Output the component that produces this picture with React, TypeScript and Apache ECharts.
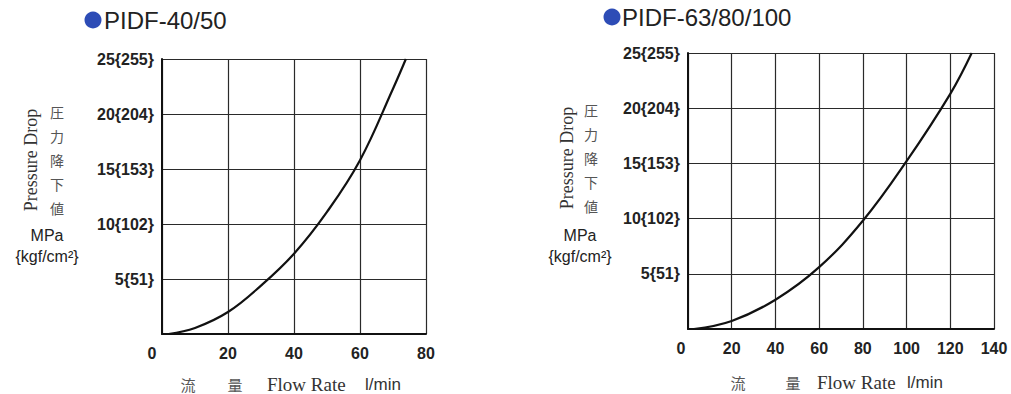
import React, { useEffect, useRef } from "react";
import * as echarts from "echarts";

const titleA = "PIDF-40/50";
const titleB = "PIDF-63/80/100";
const flowA = [2, 10, 20, 30, 40, 50, 60, 70, 73.9];
const dropA = [0, 0.55, 2.0, 4.4, 7.3, 11.1, 15.8, 22.3, 25];
const flowB = [2.7, 20, 40, 60, 80, 100, 120, 129.8];
const dropB = [0, 0.73, 2.65, 5.6, 9.8, 15.2, 21.3, 25];
const mpaTicks = [0, 5, 10, 15, 20, 25];
const kgfTicks = [0, 51, 102, 153, 204, 255];
const xMaxA = 80;
const xMaxB = 140;
const xStep = 20;
const yNameEn = "Pressure Drop";
const yNameJa = ["圧", "力", "降", "下", "値"];
const yUnit1 = "MPa";
const yUnit2 = "{kgf/cm²}";
const xNameJa1 = "流";
const xNameJa2 = "量";
const xNameEn = "Flow Rate";
const xUnit = "l/min";

const TICK_FONT = "'Liberation Sans', Arial, sans-serif";
const SANS = "'Liberation Sans', Arial, sans-serif";
const SERIF = "'Liberation Serif', 'Times New Roman', serif";
const CJK = "'Noto Sans CJK JP', sans-serif";
const TXT = "#222";
const LINE = "#2a2a2a";

function yLabel(v: number) {
  if (v === 0) return "";
  const i = mpaTicks.indexOf(v);
  return `${v}{${kgfTicks[i]}}`;
}

function makeXAxis(grid: number, max: number, zeroPad: number) {
  return {
    type: "value",
    gridIndex: grid,
    min: 0,
    max,
    interval: xStep,
    axisLine: { show: true, lineStyle: { color: "#111", width: 2 } },
    axisTick: { show: false },
    splitLine: { show: true, lineStyle: { color: LINE, width: 1.2 } },
    axisLabel: {
      margin: 11,
      color: TXT,
      fontFamily: TICK_FONT,
      fontWeight: "bold",
      fontSize: 16,
      formatter: (v: number) => (v === 0 ? "{z|0}" : String(v)),
      rich: {
        z: {
          padding: [0, zeroPad, 0, 0],
          color: TXT,
          fontFamily: TICK_FONT,
          fontWeight: "bold",
          fontSize: 16,
        },
      },
    },
  };
}

function makeYAxis(grid: number) {
  return {
    type: "value",
    gridIndex: grid,
    min: 0,
    max: 25,
    interval: 5,
    axisLine: { show: true, lineStyle: { color: "#111", width: 2 } },
    axisTick: { show: false },
    splitLine: { show: true, lineStyle: { color: LINE, width: 1.2 } },
    axisLabel: {
      margin: 8,
      color: TXT,
      fontFamily: TICK_FONT,
      fontWeight: "bold",
      fontSize: 16,
      formatter: yLabel,
    },
  };
}

function yNameGraphics(xEn: number, xJa: number, xUnitC: number, yMid: number) {
  return [
    {
      type: "text",
      x: xEn,
      y: yMid,
      rotation: Math.PI / 2,
      style: {
        text: yNameEn,
        fontFamily: SERIF,
        fontSize: 18,
        fill: "#333",
        align: "center",
        verticalAlign: "middle",
      },
    },
    {
      type: "text",
      x: xJa,
      y: yMid,
      style: {
        text: yNameJa.join("\n"),
        fontFamily: CJK,
        fontSize: 14,
        lineHeight: 24,
        fill: "#555",
        align: "center",
        verticalAlign: "middle",
      },
    },
    {
      type: "text",
      x: xUnitC,
      y: 235,
      style: {
        text: yUnit1,
        fontFamily: SANS,
        fontSize: 16,
        fill: TXT,
        align: "center",
        verticalAlign: "middle",
      },
    },
    {
      type: "text",
      x: xUnitC,
      y: 256,
      style: {
        text: yUnit2,
        fontFamily: SANS,
        fontSize: 16,
        fill: TXT,
        align: "center",
        verticalAlign: "middle",
      },
    },
  ];
}

function xNameGraphics(x1: number, x2: number, x3: number, x4: number, y: number) {
  return [
    {
      type: "text",
      x: x1,
      y,
      style: { text: xNameJa1, fontFamily: CJK, fontSize: 15, fill: "#555", align: "center", verticalAlign: "middle" },
    },
    {
      type: "text",
      x: x2,
      y,
      style: { text: xNameJa2, fontFamily: CJK, fontSize: 15, fill: "#555", align: "center", verticalAlign: "middle" },
    },
    {
      type: "text",
      x: x3,
      y,
      style: { text: xNameEn, fontFamily: SERIF, fontSize: 19, fill: "#333", align: "left", verticalAlign: "middle" },
    },
    {
      type: "text",
      x: x4,
      y,
      style: { text: xUnit, fontFamily: SANS, fontSize: 17, fill: "#333", align: "left", verticalAlign: "middle" },
    },
  ];
}

function titleGraphics(cx: number, tx: number, y: number, text: string) {
  return [
    { type: "circle", shape: { cx, cy: y, r: 8.5 }, style: { fill: "#2d4cb6" } },
    {
      type: "text",
      x: tx,
      y,
      style: { text, fontFamily: SANS, fontSize: 24, fill: "#222", align: "left", verticalAlign: "middle" },
    },
  ];
}

export default function App() {
  const ref = useRef<HTMLDivElement>(null);
  useEffect(() => {
    if (!ref.current) return;
    const chart = echarts.init(ref.current, null, { renderer: "svg" });
    const option = {
      animation: false,
      backgroundColor: "#ffffff",
      grid: [
        { left: 162, top: 59, width: 264, height: 275, show: false },
        { left: 688, top: 53, width: 306, height: 276, show: false },
      ],
      xAxis: [makeXAxis(0, xMaxA, 20), makeXAxis(1, xMaxB, 14)],
      yAxis: [makeYAxis(0), makeYAxis(1)],
      series: [
        {
          type: "line",
          xAxisIndex: 0,
          yAxisIndex: 0,
          data: flowA.map((q, i) => [q, dropA[i]]),
          smooth: 0.4,
          showSymbol: false,
          lineStyle: { color: "#111", width: 2.2 },
        },
        {
          type: "line",
          xAxisIndex: 1,
          yAxisIndex: 1,
          data: flowB.map((q, i) => [q, dropB[i]]),
          smooth: 0.4,
          showSymbol: false,
          lineStyle: { color: "#111", width: 2.2 },
        },
      ],
      graphic: [
        ...titleGraphics(93, 104, 20, titleA),
        ...titleGraphics(612, 622, 17, titleB),
        ...yNameGraphics(31, 57, 47, 160),
        ...yNameGraphics(567, 591, 580, 158),
        ...xNameGraphics(188, 235, 267, 365, 384),
        ...xNameGraphics(738, 793, 817, 907, 382),
      ],
    };
    chart.setOption(option as any);
    return () => chart.dispose();
  }, []);
  return (
    <div
      ref={ref}
      style={{ position: "absolute", left: 0, top: 0, width: 1011, height: 394, background: "#fff" }}
    />
  );
}
